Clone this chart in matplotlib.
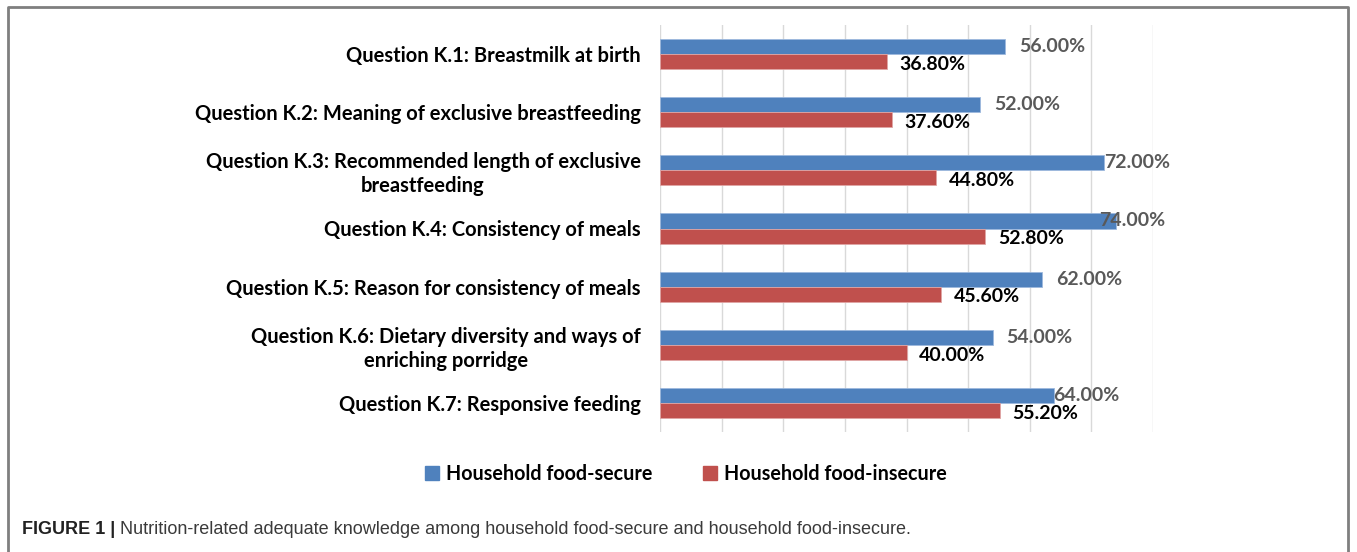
import matplotlib
matplotlib.use("Agg")
import matplotlib.pyplot as plt
from matplotlib.lines import Line2D
from matplotlib.patches import Patch
from matplotlib import transforms

questions = [
    "Question K.1: Breastmilk at birth",
    "Question K.2: Meaning of exclusive breastfeeding",
    "Question K.3: Recommended length of exclusive\nbreastfeeding",
    "Question K.4: Consistency of meals",
    "Question K.5: Reason for consistency of meals",
    "Question K.6: Dietary diversity and ways of\nenriching porridge",
    "Question K.7: Responsive feeding",
]
food_secure = [56.0, 52.0, 72.0, 74.0, 62.0, 54.0, 64.0]
food_insecure = [36.8, 37.6, 44.8, 52.8, 45.6, 40.0, 55.2]
series_names = ["Household food-secure", "Household food-insecure"]

# label nudges (points) copied from the original's hand-placed labels
blue_nudge = [10, 10, 0, -12, 10, 10, -1]

BLUE = "#4F81BD"
RED = "#C0504D"
FONT = ["Lato", "DejaVu Sans"]

fig = plt.figure(figsize=(13.57, 5.52), dpi=100)
ax = fig.add_axes([660 / 1357, 1 - 432 / 552, 493 / 1357, 407 / 552])

h = 0.26
y = list(range(len(questions)))
ax.barh([v - h / 2 for v in y], food_secure, height=h, color=BLUE,
        edgecolor="#9DB9DD", linewidth=0.6)
ax.barh([v + h / 2 for v in y], food_insecure, height=h, color=RED,
        edgecolor="#E0A5A4", linewidth=0.6)

for i in y:
    off = transforms.offset_copy(ax.transData, fig=fig, x=blue_nudge[i], y=0, units="points")
    ax.text(food_secure[i], i - h / 2, f"{food_secure[i]:.2f}%", transform=off,
            ha="left", va="center", fontsize=14, fontweight="bold",
            color="#595959", family=FONT)
    off2 = transforms.offset_copy(ax.transData, fig=fig, x=9, y=-2, units="points")
    ax.text(food_insecure[i], i + h / 2, f"{food_insecure[i]:.2f}%", transform=off2,
            ha="left", va="center", fontsize=14, fontweight="bold",
            color="black", family=FONT)

ax.set_xlim(0, 80)
ax.set_ylim(len(questions) - 0.5, -0.5)
ax.set_xticks(range(0, 81, 10))
ax.set_xticklabels([])
ax.set_yticks(y)
ax.set_yticklabels(questions, fontsize=14.5, fontweight="bold", family=FONT,
                   multialignment="center", linespacing=1.25)
ax.tick_params(length=0, pad=14)
ax.grid(axis="x", color="#D9D9D9", linewidth=1)
ax.set_axisbelow(True)
for s in ax.spines.values():
    s.set_visible(False)

handles = [Patch(color=BLUE), Patch(color=RED)]
fig.legend(handles, series_names, loc="center", bbox_to_anchor=(686 / 1357, 1 - 474 / 552),
           ncol=2, frameon=False, handlelength=0.7, handleheight=0.7,
           handletextpad=0.35, columnspacing=2.6,
           prop={"family": FONT, "weight": "bold", "size": 14.2})

# outer frame (open at the bottom)
fx = [8 / 1357, 8 / 1357, 1348 / 1357, 1348 / 1357]
fy = [0, 1 - 7 / 552, 1 - 7 / 552, 0]
fig.add_artist(Line2D(fx, fy, transform=fig.transFigure, color="#7F7F7F", linewidth=2))

cap_font = ["Liberation Sans Narrow", "Liberation Sans", "DejaVu Sans"]
t1 = fig.text(22 / 1357, 1 - 530 / 552, "FIGURE 1 |", fontsize=13, fontweight="bold",
              color="#222222", family=cap_font, va="center")
fig.canvas.draw()
bb = t1.get_window_extent()
fig.text((bb.x1 + 5) / 1357, 1 - 530 / 552,
         "Nutrition-related adequate knowledge among household food-secure and household food-insecure.",
         fontsize=13, color="#3A3A3A", family=cap_font, va="center")

fig.savefig("out.png", dpi=100)
